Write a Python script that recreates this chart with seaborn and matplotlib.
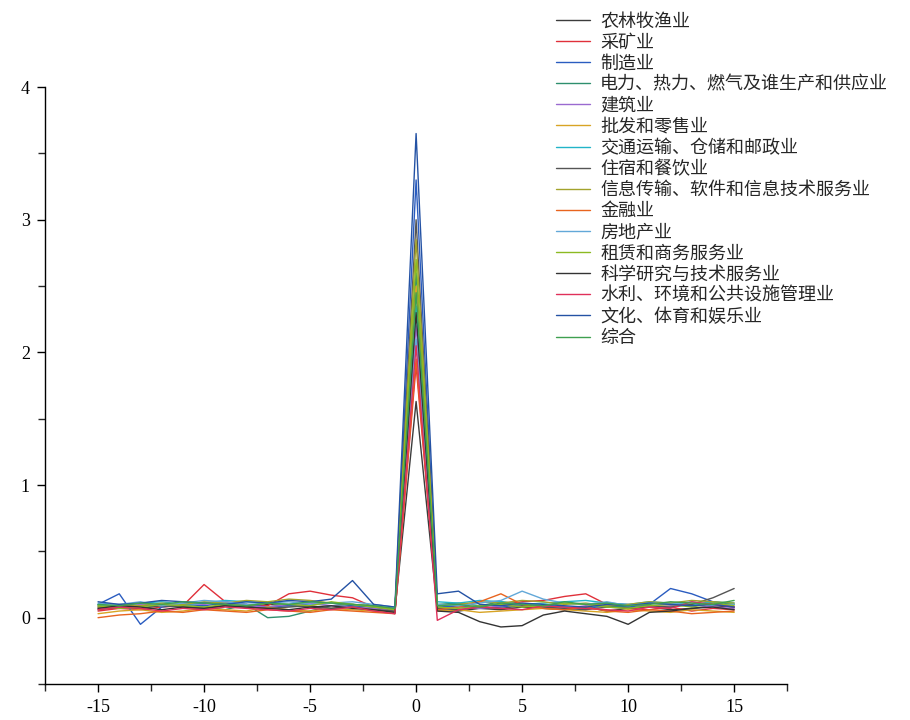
import pandas as pd
import matplotlib
matplotlib.use('Agg')
import matplotlib.pyplot as plt
import seaborn as sns
from matplotlib.ticker import MultipleLocator

# lag positions
lags = list(range(-15, 16))

industries = ['农林牧渔业', '采矿业', '制造业', '电力、热力、燃气及谁生产和供应业', '建筑业',
              '批发和零售业', '交通运输、仓储和邮政业', '住宿和餐饮业', '信息传输、软件和信息技术服务业',
              '金融业', '房地产业', '租赁和商务服务业', '科学研究与技术服务业',
              '水利、环境和公共设施管理业', '文化、体育和娱乐业', '综合']

colors = ['#3c3c3c', '#e0303a', '#2a5cc0', '#2e8f6e', '#9a6ad0', '#d8a424', '#22b4c8', '#555555',
          '#a3a32c', '#e8641e', '#62a8d8', '#8cba22', '#333333', '#e0305a', '#2452a4', '#3fa050']

# values, x = -15 .. 15
s1 = [0.08, 0.07, 0.09, 0.10, 0.08, 0.07, 0.09, 0.08, 0.10, 0.09, 0.08, 0.07, 0.09, 0.08, 0.05, 1.63,
      0.06, 0.05, 0.07, 0.06, 0.08, 0.07, 0.06, 0.08, 0.05, 0.07, 0.08, 0.06, 0.07, 0.09, 0.08]
s2 = [0.05, 0.07, 0.06, 0.08, 0.09, 0.25, 0.12, 0.10, 0.09, 0.18, 0.20, 0.17, 0.15, 0.08, 0.04, 1.90,
      0.07, 0.09, 0.08, 0.10, 0.12, 0.13, 0.16, 0.18, 0.10, 0.07, 0.06, 0.08, 0.05, 0.07, 0.06]
s3 = [0.10, 0.18, -0.05, 0.08, 0.10, 0.09, 0.11, 0.10, 0.08, 0.09, 0.10, 0.11, 0.09, 0.08, 0.06, 3.30,
      0.08, 0.09, 0.07, 0.08, 0.10, 0.09, 0.08, 0.07, 0.09, 0.08, 0.10, 0.22, 0.18, 0.12, 0.08]
s4 = [0.09, 0.08, 0.07, 0.10, 0.09, 0.08, 0.06, 0.10, 0.00, 0.01, 0.05, 0.09, 0.10, 0.08, 0.03, 2.60,
      0.10, 0.11, 0.09, 0.12, 0.10, 0.09, 0.11, 0.10, 0.08, 0.09, 0.11, 0.10, 0.09, 0.12, 0.10]
s5 = [0.07, 0.08, 0.10, 0.09, 0.11, 0.10, 0.12, 0.09, 0.08, 0.10, 0.11, 0.09, 0.08, 0.07, 0.05, 2.20,
      0.06, 0.08, 0.07, 0.09, 0.10, 0.08, 0.07, 0.09, 0.11, 0.10, 0.08, 0.09, 0.10, 0.08, 0.07]
s6 = [0.03, 0.05, 0.06, 0.04, 0.05, 0.07, 0.06, 0.05, 0.08, 0.06, 0.05, 0.07, 0.06, 0.05, 0.04, 2.50,
      0.05, 0.06, 0.04, 0.05, 0.06, 0.07, 0.06, 0.05, 0.04, 0.06, 0.05, 0.04, 0.06, 0.05, 0.04]
s7 = [0.10, 0.09, 0.11, 0.12, 0.10, 0.11, 0.13, 0.12, 0.11, 0.10, 0.12, 0.11, 0.10, 0.09, 0.07, 2.35,
      0.12, 0.11, 0.13, 0.12, 0.10, 0.11, 0.12, 0.13, 0.11, 0.10, 0.12, 0.11, 0.10, 0.12, 0.11]
s8 = [0.06, 0.08, 0.07, 0.09, 0.08, 0.07, 0.09, 0.08, 0.07, 0.08, 0.09, 0.07, 0.08, 0.06, 0.05, 3.00,
      0.07, 0.06, 0.08, 0.07, 0.09, 0.08, 0.07, 0.06, 0.08, 0.07, 0.09, 0.08, 0.10, 0.15, 0.22]
s9 = [0.08, 0.10, 0.09, 0.11, 0.10, 0.12, 0.11, 0.13, 0.12, 0.14, 0.13, 0.11, 0.10, 0.09, 0.06, 2.85,
      0.09, 0.10, 0.12, 0.11, 0.13, 0.12, 0.10, 0.11, 0.09, 0.10, 0.12, 0.11, 0.13, 0.12, 0.11]
s10 = [0.00, 0.02, 0.03, 0.05, 0.04, 0.06, 0.05, 0.04, 0.06, 0.05, 0.04, 0.06, 0.05, 0.04, 0.03, 1.95,
       0.06, 0.08, 0.12, 0.18, 0.10, 0.07, 0.06, 0.08, 0.05, 0.04, 0.06, 0.05, 0.03, 0.04, 0.05]
s11 = [0.11, 0.10, 0.12, 0.09, 0.11, 0.13, 0.12, 0.10, 0.11, 0.12, 0.10, 0.11, 0.12, 0.10, 0.08, 2.10,
       0.10, 0.09, 0.11, 0.13, 0.20, 0.14, 0.11, 0.10, 0.12, 0.09, 0.11, 0.10, 0.12, 0.09, 0.10]
s12 = [0.09, 0.07, 0.08, 0.10, 0.09, 0.08, 0.10, 0.09, 0.11, 0.10, 0.09, 0.12, 0.10, 0.08, 0.06, 2.70,
       0.08, 0.07, 0.09, 0.10, 0.08, 0.09, 0.11, 0.10, 0.08, 0.07, 0.09, 0.10, 0.08, 0.11, 0.09]
s13 = [0.07, 0.09, 0.08, 0.06, 0.08, 0.07, 0.09, 0.08, 0.07, 0.06, 0.08, 0.09, 0.07, 0.06, 0.04, 2.30,
       0.05, 0.04, -0.03, -0.07, -0.06, 0.02, 0.05, 0.03, 0.01, -0.05, 0.04, 0.05, 0.07, 0.08, 0.06]
s14 = [0.06, 0.08, 0.07, 0.05, 0.07, 0.06, 0.08, 0.07, 0.06, 0.05, 0.07, 0.06, 0.08, 0.05, 0.03, 2.05,
       -0.02, 0.06, 0.08, 0.07, 0.06, 0.09, 0.08, 0.07, 0.06, 0.05, 0.08, 0.07, 0.12, 0.10, 0.08]
s15 = [0.12, 0.10, 0.11, 0.13, 0.12, 0.11, 0.10, 0.12, 0.11, 0.13, 0.12, 0.14, 0.28, 0.10, 0.08, 3.65,
       0.18, 0.20, 0.10, 0.09, 0.11, 0.10, 0.09, 0.08, 0.10, 0.09, 0.11, 0.10, 0.09, 0.10, 0.08]
s16 = [0.10, 0.09, 0.11, 0.10, 0.12, 0.11, 0.10, 0.09, 0.11, 0.10, 0.12, 0.11, 0.10, 0.09, 0.07, 2.45,
       0.09, 0.10, 0.08, 0.11, 0.10, 0.09, 0.12, 0.10, 0.11, 0.09, 0.10, 0.12, 0.11, 0.10, 0.13]

series = [s1, s2, s3, s4, s5, s6, s7, s8, s9, s10, s11, s12, s13, s14, s15, s16]

rows = []
for name, vals in zip(industries, series):
    for x, v in zip(lags, vals):
        rows.append({'lag': x, 'value': v, 'industry': name})
df = pd.DataFrame(rows)

sns.set_style('ticks')
plt.rcParams['font.family'] = ['Noto Sans CJK SC', 'DejaVu Sans']
plt.rcParams['axes.unicode_minus'] = False

fig = plt.figure(figsize=(9.1, 7.2), dpi=100)
ax = fig.add_axes([0.0495, 0.05, 0.8155, 0.829])

sns.lineplot(data=df, x='lag', y='value', hue='industry', hue_order=industries,
             palette=colors, estimator=None, sort=False, linewidth=1.0, ax=ax, legend=True)

ax.set_xlim(-17.5, 17.5)
ax.set_ylim(-0.5, 4)
ax.set_xticks([-15, -10, -5, 0, 5, 10, 15])
ax.set_yticks([0, 1, 2, 3, 4])
ax.xaxis.set_minor_locator(MultipleLocator(2.5))
ax.yaxis.set_minor_locator(MultipleLocator(0.5))
ax.tick_params(which='major', direction='out', length=6, width=1.0, pad=5,
               labelsize=13, colors='black')
ax.tick_params(which='minor', direction='out', length=5, width=1.0)
for lab in ax.get_xticklabels() + ax.get_yticklabels():
    lab.set_fontfamily('Liberation Serif')
ax.set_xlabel('')
ax.set_ylabel('')
sns.despine(ax=ax)
for sp in ['left', 'bottom']:
    ax.spines[sp].set_linewidth(1.0)
    ax.spines[sp].set_color('black')

handles, labels = ax.get_legend_handles_labels()
ax.get_legend().remove()
fig.legend(handles, labels, loc='upper left', bbox_to_anchor=(0.595, 1.003),
           frameon=False, fontsize=13, handlelength=1.9, handletextpad=0.55,
           labelspacing=0.172, borderpad=0.3)

fig.savefig('out.png', dpi=100)
